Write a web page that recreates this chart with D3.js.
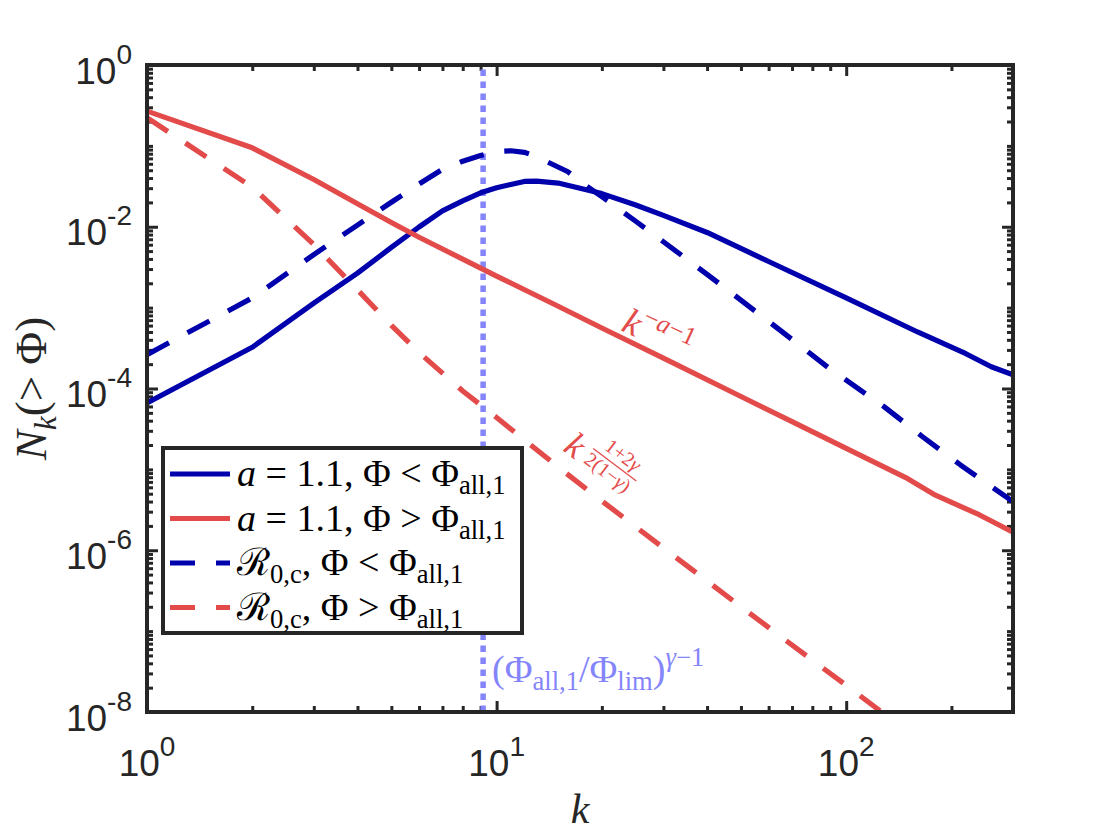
<!DOCTYPE html>
<html>
<head>
<meta charset="utf-8">
<script src="https://cdnjs.cloudflare.com/ajax/libs/d3/7.8.5/d3.min.js"></script>
<style>
  body { margin: 0; background: #fff; }
  text { white-space: pre; }
</style>
</head>
<body>
<svg id="chart" width="1120" height="840"></svg>
<script>
// values (k, N_k)
var redSolidK = [1, 2, 3, 4, 5, 6, 8, 10, 15, 20, 30, 50, 70, 100, 150, 180, 240, 300]
var redSolidN = [0.269, 0.0946, 0.0384, 0.0193, 0.0113, 0.00741, 0.00398, 0.00245, 1.04e-3, 5.6e-4,
                 2.37e-4, 7.96e-5, 3.89e-5, 1.82e-5, 7.67e-6, 4.8e-6, 2.75e-6, 1.67e-6]

var blueSolidK = [1, 2, 3, 4, 5, 6, 7, 8, 9, 10, 12, 13, 15, 20, 25, 30, 40, 60, 100, 160, 220, 260, 300]
var blueSolidN = [6.61e-5, 3.23e-4, 1.14e-3, 2.67e-3, 5.55e-3, 9.93e-3, 1.57e-2, 2.09e-2, 2.63e-2, 3.04e-2,
                  3.63e-2, 3.66e-2, 3.47e-2, 2.57e-2, 1.86e-2, 1.38e-2, 8.5e-3, 3.72e-3, 1.32e-3, 5.0e-4,
                  2.69e-4, 1.86e-4, 1.48e-4]

var blueDashK = [1, 2, 3, 4, 5, 6, 7, 8, 9, 10, 11, 12, 13, 14, 16, 18, 20, 25, 30, 40, 60, 90, 128, 165, 212, 300]
var blueDashN = [2.62e-4, 1.32e-3, 4.53e-3, 1.05e-2, 2.01e-2, 3.37e-2, 5.13e-2, 6.47e-2, 7.59e-2, 8.55e-2,
                 8.71e-2, 8.32e-2, 7.41e-2, 6.31e-2, 4.79e-2, 3.24e-2, 2.36e-2, 1.17e-2, 6.53e-3, 2.58e-3,
                 6.76e-4, 1.74e-4, 6.01e-5, 2.55e-5, 1.14e-5, 3.98e-6]

var redDashK = [1, 2, 3, 4, 5, 6, 8, 10, 15, 20, 30, 50, 80, 100, 130]
var redDashN = [0.223, 0.0309, 6.03e-3, 1.66e-3, 6.03e-4, 2.79e-4, 9.33e-5, 4.37e-5, 1.07e-5, 4.07e-6,
                1.07e-6, 2.0e-7, 4.37e-8, 2.14e-8, 9.1e-9]

var kLim = 9.15

var xMajor = [1, 10, 100]
var xMinor = [2, 3, 4, 5, 6, 7, 8, 9, 20, 30, 40, 50, 60, 70, 80, 90, 200]
var yMajor = [1e-8, 1e-6, 1e-4, 1e-2, 1]
var yExp = ["-8", "-6", "-4", "-2", "0"]
var xExp = ["0", "1", "2"]

var BLUE = "#0000ad", RED = "#e34b4b", LILAC = "#8585fb", INK = "#262626"

var margin = {left: 147, right: 107, top: 65, bottom: 128}
var width = 1120, height = 840
var svg = d3.select("#chart")

var x = d3.scaleLog().domain([1, 300]).range([margin.left, width - margin.right])
var y = d3.scaleLog().domain([1e-8, 1]).range([height - margin.bottom, margin.top])

svg.append("defs").append("clipPath").attr("id", "plotclip")
  .append("rect")
  .attr("x", margin.left).attr("y", margin.top)
  .attr("width", width - margin.left - margin.right)
  .attr("height", height - margin.top - margin.bottom)

function mathText(text, parts, size) {
  var cur = 0
  parts.forEach(p => {
    var fs = (p.sub || p.sup) ? size * 0.7 : size
    var off = p.sub ? size * 0.22 : p.sup ? -size * 0.42 : 0
    text.append("tspan").text(p.t)
      .attr("dy", off - cur)
      .attr("font-size", fs)
      .attr("font-style", p.i ? "italic" : "normal")
    cur = off
  })
}

// ticks on all four sides, pointing in
function ticks(axisFn, scale, values, size, transform) {
  svg.append("g").attr("transform", transform)
    .call(axisFn(scale).tickValues(values).tickSize(-size).tickFormat(""))
    .call(g => g.select(".domain").remove())
    .call(g => g.selectAll("line").attr("stroke", INK).attr("stroke-width", 3))
}
var yB = height - margin.bottom, xR = width - margin.right
ticks(d3.axisBottom, x, xMajor, 11, "translate(0," + yB + ")")
ticks(d3.axisBottom, x, xMinor, 6, "translate(0," + yB + ")")
ticks(d3.axisTop, x, xMajor, 11, "translate(0," + margin.top + ")")
ticks(d3.axisTop, x, xMinor, 6, "translate(0," + margin.top + ")")

var yMinor = []
d3.range(-8, 0).forEach(e => {
  d3.range(1, 10).forEach(m => {
    var v = m * Math.pow(10, e)
    if (!(m == 1 && e % 2 == 0)) yMinor.push(v)
  })
})
ticks(d3.axisLeft, y, yMajor, 11, "translate(" + margin.left + ",0)")
ticks(d3.axisLeft, y, yMinor, 6, "translate(" + margin.left + ",0)")
ticks(d3.axisRight, y, yMajor, 11, "translate(" + xR + ",0)")
ticks(d3.axisRight, y, yMinor, 6, "translate(" + xR + ",0)")

// tick labels
xMajor.forEach((v, i) => {
  var t = svg.append("text")
    .attr("x", x(v)).attr("y", yB + 64)
    .attr("text-anchor", "middle")
    .attr("font-family", "Liberation Sans, Arial, sans-serif")
    .attr("fill", INK)
  t.append("tspan").text("10").attr("font-size", 37)
  t.append("tspan").text(xExp[i]).attr("font-size", 28).attr("dy", -20)
})
yMajor.forEach((v, i) => {
  var t = svg.append("text")
    .attr("x", margin.left - 15).attr("y", y(v) + 18.5)
    .attr("text-anchor", "end")
    .attr("font-family", "Liberation Sans, Arial, sans-serif")
    .attr("fill", INK)
  t.append("tspan").text("10").attr("font-size", 37)
  t.append("tspan").text(yExp[i]).attr("font-size", 28).attr("dy", -20)
})

// curves
var line = d3.line().x(d => x(d[0])).y(d => y(d[1]))
var plot = svg.append("g").attr("clip-path", "url(#plotclip)")

var series = [
  {k: blueSolidK, n: blueSolidN, color: BLUE, dash: null},
  {k: redSolidK, n: redSolidN, color: RED, dash: null},
  {k: blueDashK, n: blueDashN, color: BLUE, dash: "25,21"},
  {k: redDashK, n: redDashN, color: RED, dash: "25,21"}
]

plot.append("line")
  .attr("x1", x(kLim)).attr("x2", x(kLim))
  .attr("y1", yB).attr("y2", margin.top)
  .attr("stroke", LILAC).attr("stroke-width", 5.5)
  .attr("stroke-dasharray", "6.5,5.5")

series.forEach(s => {
  plot.append("path")
    .datum(d3.zip(s.k, s.n))
    .attr("d", line)
    .attr("fill", "none")
    .attr("stroke", s.color)
    .attr("stroke-width", 5.2)
    .attr("stroke-linejoin", "round")
    .attr("stroke-dasharray", s.dash)
})

// box
svg.append("rect")
  .attr("x", margin.left).attr("y", margin.top)
  .attr("width", xR - margin.left).attr("height", yB - margin.top)
  .attr("fill", "none").attr("stroke", INK).attr("stroke-width", 4)

// axis labels
var serif = "Liberation Serif, Times New Roman, serif"
svg.append("text")
  .attr("x", (margin.left + xR) / 2).attr("y", 823)
  .attr("text-anchor", "middle")
  .attr("font-family", serif).attr("font-size", 42).attr("font-style", "italic")
  .attr("fill", INK)
  .text("k")

var yl = svg.append("text")
  .attr("transform", "translate(46," + ((margin.top + yB) / 2) + ") rotate(-90)")
  .attr("text-anchor", "middle")
  .attr("font-family", serif).attr("fill", INK)
mathText(yl, [{t: "N", i: 1}, {t: "k", i: 1, sub: 1}, {t: "(> Φ)"}], 45)

// annotations
var a1 = svg.append("text")
  .attr("transform", "translate(620,330) rotate(25)")
  .attr("font-family", serif).attr("fill", RED)
mathText(a1, [{t: "k", i: 1}, {t: "−", sup: 1}, {t: "a", sup: 1, i: 1}, {t: "−1", sup: 1}], 37)

var a2 = svg.append("g")
  .attr("transform", "translate(562,450) rotate(37)")
  .attr("font-family", serif).attr("fill", RED)
a2.append("text").attr("font-size", 36).attr("font-style", "italic").text("k")
var num = a2.append("text").attr("x", 52).attr("y", -26).attr("text-anchor", "middle")
mathText(num, [{t: "1+2"}, {t: "γ", i: 1}], 20)
var den = a2.append("text").attr("x", 50).attr("y", -3).attr("text-anchor", "middle")
mathText(den, [{t: "2(1−"}, {t: "γ", i: 1}, {t: ")"}], 20)
a2.append("line").attr("x1", 24).attr("x2", 78).attr("y1", -20).attr("y2", -20)
  .attr("stroke", RED).attr("stroke-width", 1.3)

var a3 = svg.append("text")
  .attr("x", 492).attr("y", 682)
  .attr("font-family", serif).attr("fill", LILAC)
mathText(a3, [{t: "(Φ"}, {t: "all,1", sub: 1}, {t: "/Φ"}, {t: "lim", sub: 1}, {t: ")"},
              {t: "γ", sup: 1, i: 1}, {t: "−1", sup: 1}], 38)

// legend
var legendLabels = [
  [{t: "a", i: 1}, {t: " = 1.1, Φ < Φ"}, {t: "all,1", sub: 1}],
  [{t: "a", i: 1}, {t: " = 1.1, Φ > Φ"}, {t: "all,1", sub: 1}],
  [{t: "ℛ"}, {t: "0,c", sub: 1}, {t: ", Φ < Φ"}, {t: "all,1", sub: 1}],
  [{t: "ℛ"}, {t: "0,c", sub: 1}, {t: ", Φ > Φ"}, {t: "all,1", sub: 1}]
]
var legend = svg.append("g").attr("transform", "translate(163,448)")
legend.append("rect")
  .attr("width", 359).attr("height", 185)
  .attr("fill", "#fff").attr("stroke", INK).attr("stroke-width", 4)
series.forEach((s, i) => {
  var row = legend.append("g").attr("transform", "translate(0," + (26 + i * 44.5) + ")")
  row.append("line").attr("x1", 7).attr("x2", 67)
    .attr("stroke", s.color).attr("stroke-width", 5.2)
    .attr("stroke-dasharray", s.dash)
  var t = row.append("text").attr("x", 74).attr("y", 12)
    .attr("font-family", serif).attr("fill", "#000")
  mathText(t, legendLabels[i], 38)
})
</script>
</body>
</html>
